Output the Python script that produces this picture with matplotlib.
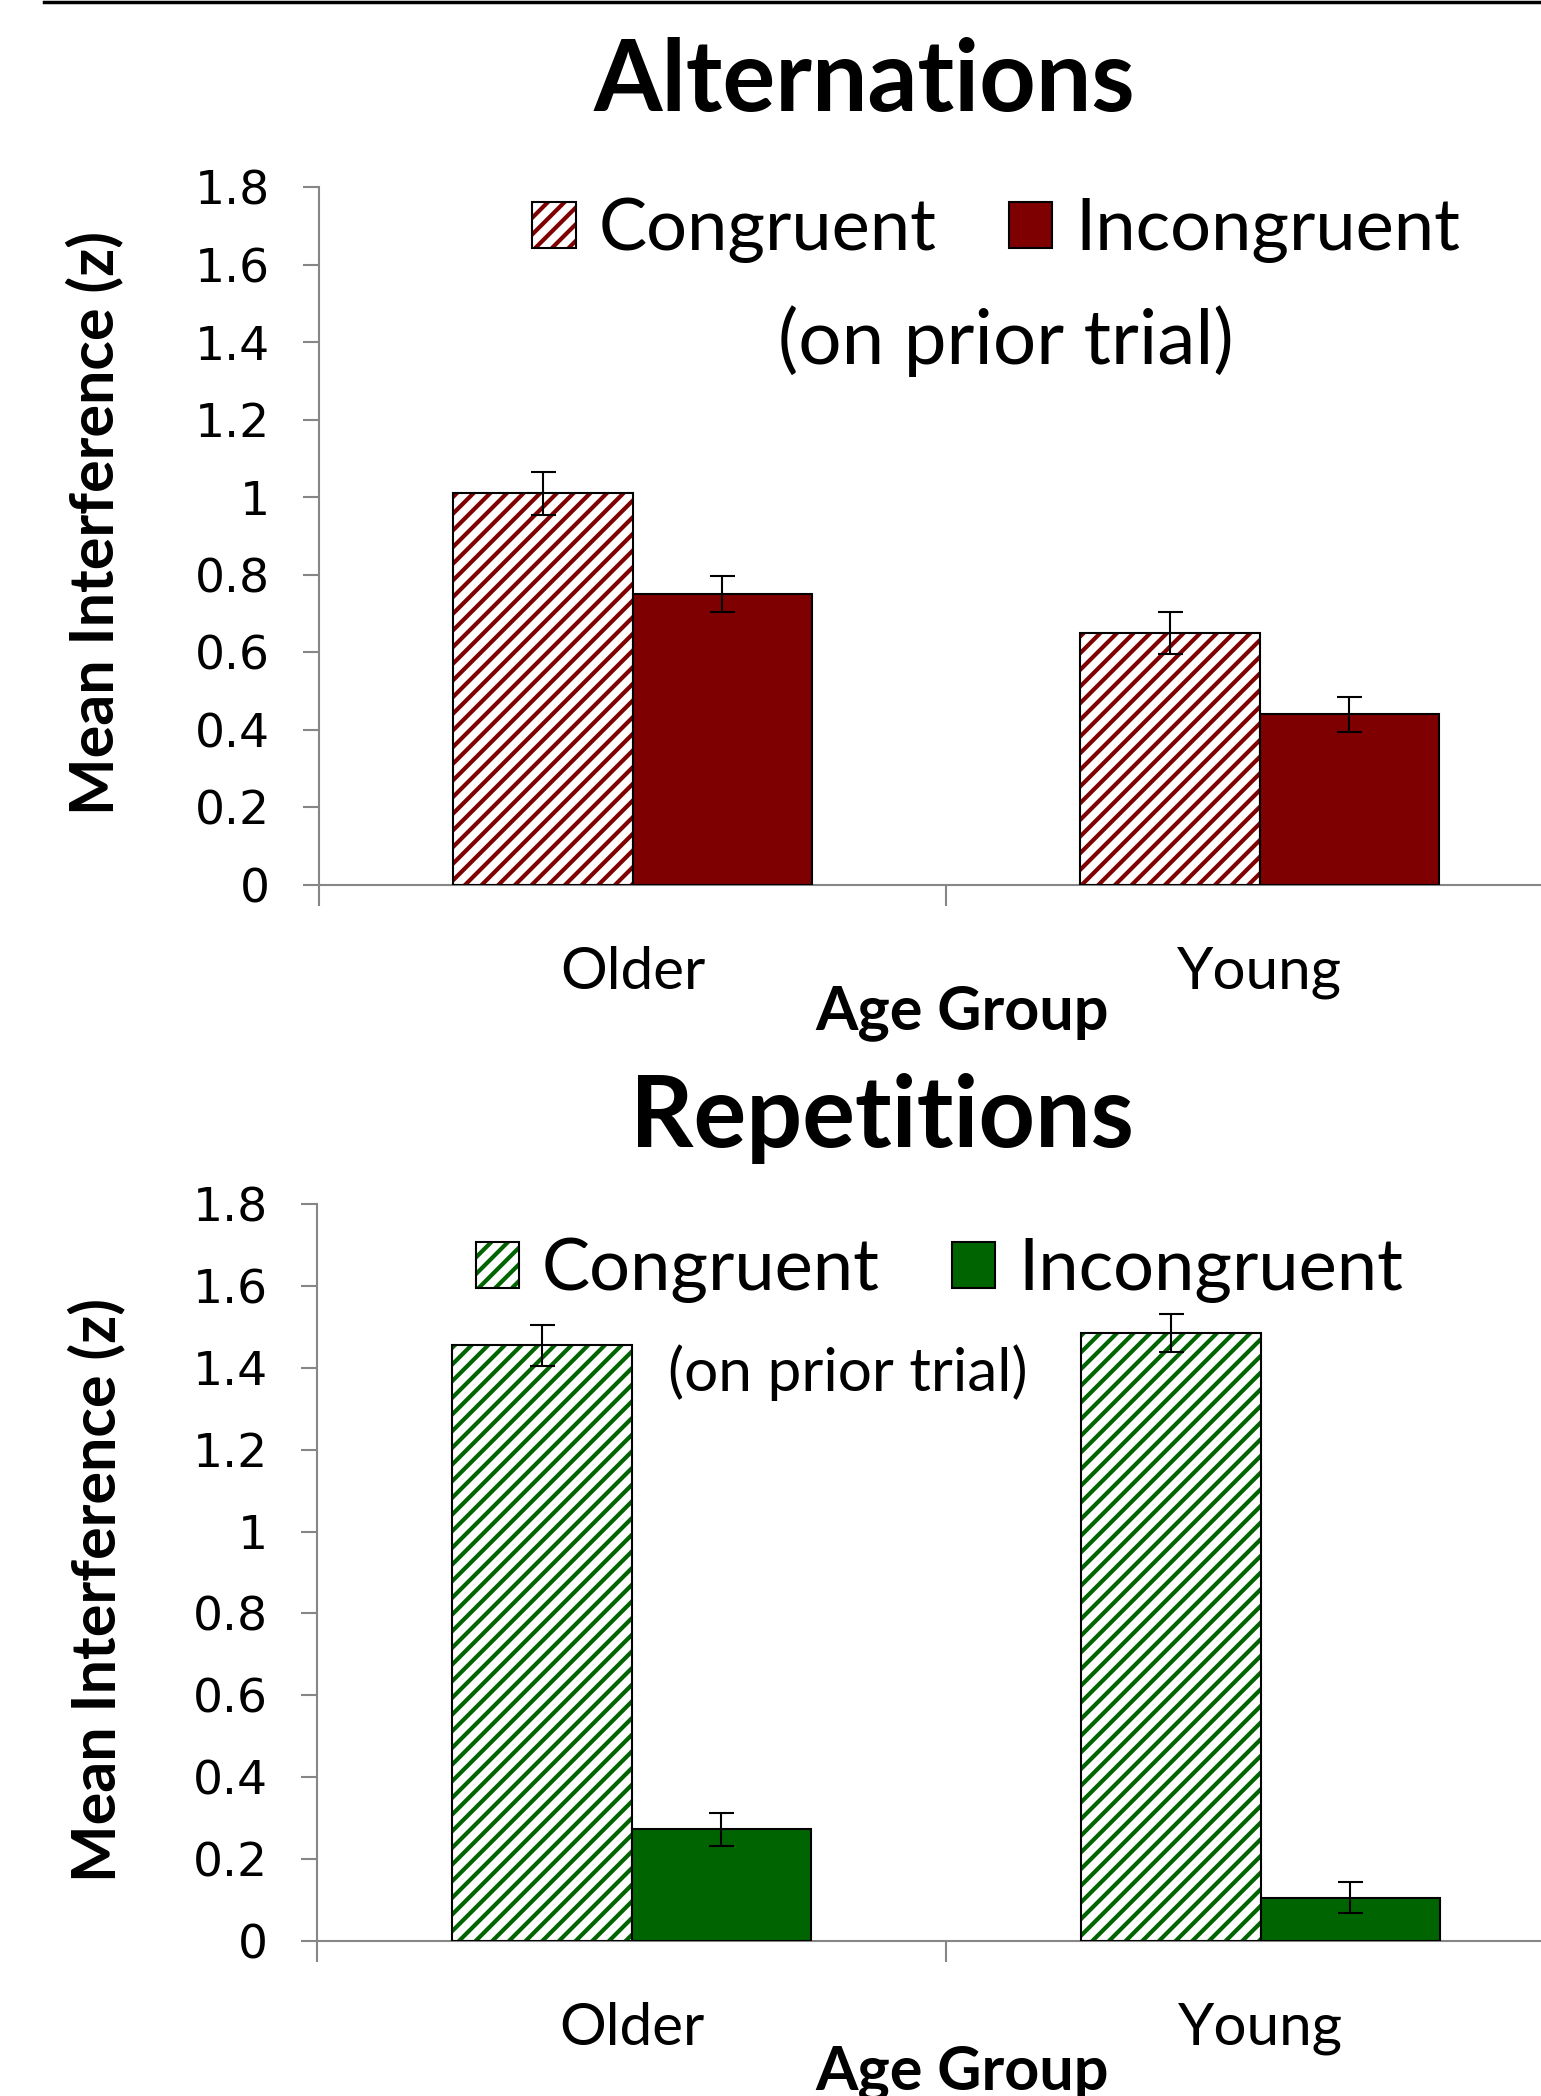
import numpy as np
import matplotlib
matplotlib.use("Agg")
import matplotlib.pyplot as plt
from matplotlib.patches import Patch
from matplotlib.legend_handler import HandlerTuple
from matplotlib.lines import Line2D

# --- data ---
groups = ["Older", "Young"]
series = ["Congruent", "Incongruent"]

alt_congruent = [1.01, 0.65]
alt_congruent_err = [0.055, 0.055]
alt_incongruent = [0.75, 0.44]
alt_incongruent_err = [0.047, 0.045]

rep_congruent = [1.455, 1.485]
rep_congruent_err = [0.05, 0.047]
rep_incongruent = [0.272, 0.105]
rep_incongruent_err = [0.04, 0.038]

yticks = [0, 0.2, 0.4, 0.6, 0.8, 1.0, 1.2, 1.4, 1.6, 1.8]
ytick_labels = ["0", "0.2", "0.4", "0.6", "0.8", "1", "1.2", "1.4", "1.6", "1.8"]

RED = "#7f0000"
GREEN = "#006400"
GRAY = "#868686"

plt.rcParams["font.family"] = ["Lato", "DejaVu Sans"]
plt.rcParams["hatch.linewidth"] = 3.0


def draw_panel(ax, cong, cong_err, incong, incong_err, color,
               legend_xy, note_xy, note_size, ylabel_xy, xlabel_xy):
    x = np.arange(len(groups))
    w = 0.286
    # hatched congruent bars (hatch in series colour, black outline on top)
    ax.bar(x - w / 2, cong, w, color="white", edgecolor=color, hatch="//",
           linewidth=0, zorder=2)
    ax.bar(x - w / 2, cong, w, fill=False, edgecolor="black", linewidth=1.5, zorder=3)
    ax.bar(x + w / 2, incong, w, color=color, edgecolor="black", linewidth=1.5, zorder=3)
    ax.errorbar(x - w / 2, cong, yerr=cong_err, fmt="none", ecolor="black",
                elinewidth=1.5, capsize=9, capthick=1.5, zorder=4)
    ax.errorbar(x + w / 2, incong, yerr=incong_err, fmt="none", ecolor="black",
                elinewidth=1.5, capsize=9, capthick=1.5, zorder=4)

    ax.set_xlim(-0.5, 1.5)
    ax.set_ylim(0, 1.8)
    ax.set_yticks(yticks, ytick_labels)
    ax.set_xticks([-0.5, 0.5, 1.5], ["", "", ""])
    ax.set_xticks(x, groups, minor=True)
    ax.tick_params(axis="x", which="major", length=15, width=1.5, color=GRAY)
    ax.tick_params(axis="x", which="minor", length=0, pad=44, labelsize=42)
    ax.tick_params(axis="y", length=11.5, width=1.5, color=GRAY, pad=24, labelsize=34)
    for lab in ax.get_yticklabels():
        lab.set_fontfamily("DejaVu Sans")
    for s in ["top", "right"]:
        ax.spines[s].set_visible(False)
    for s in ["left", "bottom"]:
        ax.spines[s].set_color(GRAY)
        ax.spines[s].set_linewidth(1.5)

    ax.set_ylabel("Mean Interference (z)", fontsize=44, fontweight="bold")
    ax.yaxis.set_label_coords(*ylabel_xy)
    ax.set_xlabel("Age Group", fontsize=44, fontweight="bold")
    ax.xaxis.set_label_coords(*xlabel_xy)

    h_cong = (Patch(facecolor="white", edgecolor=color, hatch="//", linewidth=0),
              Patch(fill=False, edgecolor="black", linewidth=1.5))
    h_incong = Patch(facecolor=color, edgecolor="black", linewidth=1.5)
    ax.legend([h_cong, h_incong], series,
              handler_map={tuple: HandlerTuple(ndivide=1, pad=0)},
              ncol=2, loc="center left", bbox_to_anchor=legend_xy,
              frameon=False, prop=dict(size=52), handlelength=0.6,
              handleheight=0.6, handletextpad=0.32, columnspacing=1.0,
              borderpad=0, borderaxespad=0)
    ax.text(note_xy[0], note_xy[1], "(on prior trial)", transform=ax.transAxes,
            ha="center", va="center", fontsize=note_size)


fig = plt.figure(figsize=(15.41, 20.96), dpi=100)
ax1 = fig.add_axes([0.207, 0.5778, 0.8138, 0.333])
ax2 = fig.add_axes([0.2057, 0.0741, 0.8164, 0.3514])

draw_panel(ax1, alt_congruent, alt_congruent_err, alt_incongruent, alt_incongruent_err,
           RED, (0.17, 0.938), (0.548, 0.779), 55, (-0.156, 0.519), (0.513, -0.143))
draw_panel(ax2, rep_congruent, rep_congruent_err, rep_incongruent, rep_incongruent_err,
           GREEN, (0.126, 0.91), (0.422, 0.771), 43.5, (-0.152, 0.476), (0.513, -0.142))

fig.text(0.561, 0.947, "Alternations", ha="center", va="baseline",
         fontsize=71, fontweight="bold")
fig.text(0.572, 0.4528, "Repetitions", ha="center", va="baseline",
         fontsize=71, fontweight="bold")

# frame line along the top edge
fig.add_artist(Line2D([44 / 1541, 1.0], [1 - 2 / 2096, 1 - 2 / 2096],
                      transform=fig.transFigure, color="black", linewidth=2.5))

fig.savefig("out.png", dpi=100)
